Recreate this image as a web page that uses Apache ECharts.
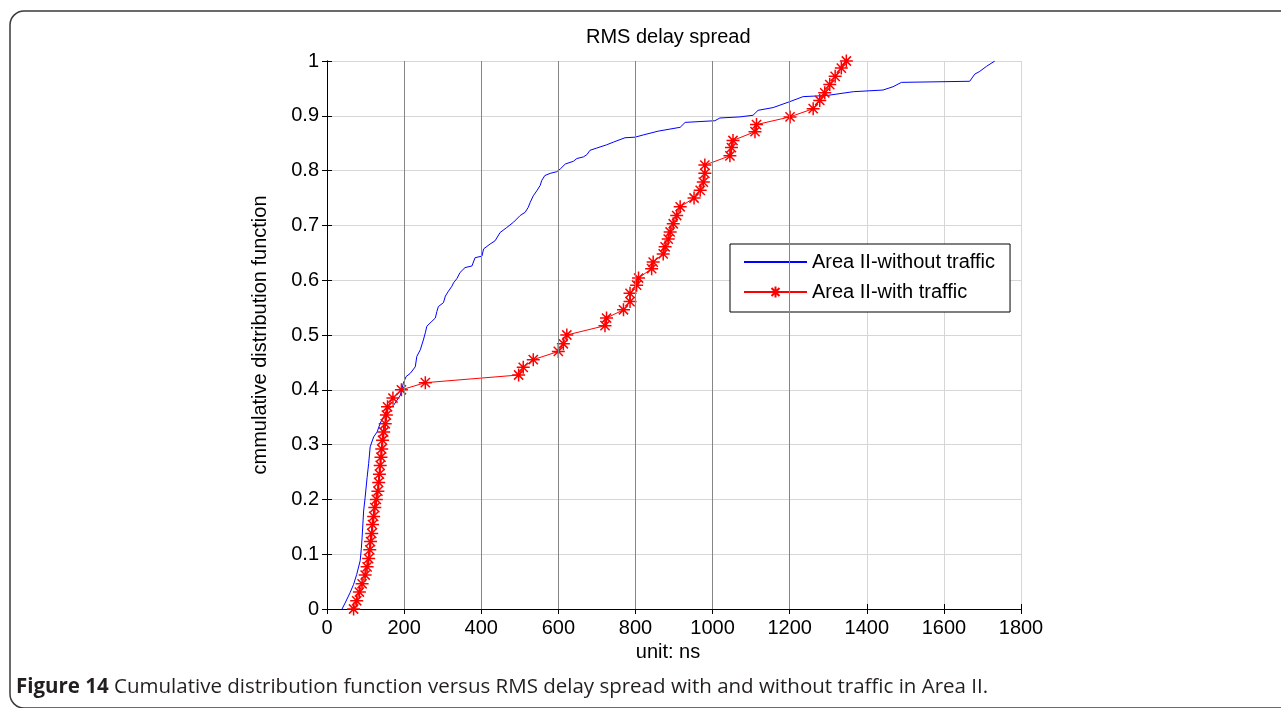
<!DOCTYPE html>
<html>
<head>
<meta charset="utf-8">
<script src="https://cdn.jsdelivr.net/npm/echarts@6/dist/echarts.min.js"></script>
<style>
html,body{margin:0;padding:0;background:#fff;}
#chart{width:1281px;height:708px;}
</style>
</head>
<body>
<div id="chart"></div>
<script>
var chartTitle = 'RMS delay spread';
var xAxisName = 'unit: ns';
var yAxisName = 'cmmulative distribution function';
var seriesNames = ['Area II-without traffic', 'Area II-with traffic'];
var caption = 'Cumulative distribution function versus RMS delay spread with and without traffic in Area II.';
var captionLabel = 'Figure 14';
var xMin = 0, xMax = 1800, xStep = 200;
var yMin = 0, yMax = 1, yStep = 0.1;
var darkGridX = [200, 400, 600, 800, 1000, 1200];

var withoutTraffic = [
  [39,0],[47,0.011],[60,0.03],[69,0.045],[77,0.063],[86,0.088],[89,0.11],[91,0.130],[95,0.179],
  [99,0.204],[104,0.240],[108,0.265],[112,0.296],[121,0.314],[130,0.323],[138,0.339],[147,0.351],
  [155,0.363],[173,0.372],[190,0.390],[198,0.412],[205,0.424],[216,0.430],[229,0.442],[233,0.461],
  [242,0.473],[250,0.491],[255,0.504],[259,0.516],[272,0.525],[281,0.531],[285,0.543],[289,0.552],
  [302,0.559],[307,0.571],[315,0.580],[324,0.589],[328,0.595],[337,0.603],[345,0.614],[358,0.623],
  [376,0.626],[384,0.641],[402,0.644],[406,0.657],[423,0.666],[436,0.672],[449,0.687],[466,0.696],
  [484,0.706],[501,0.718],[514,0.724],[522,0.733],[527,0.742],[535,0.754],[544,0.763],[553,0.773],
  [557,0.782],[565,0.791],[579,0.795],[596,0.798],[605,0.803],[618,0.812],[639,0.817],[648,0.822],
  [665,0.825],[674,0.829],[682,0.837],[699,0.841],[725,0.847],[743,0.852],[773,0.860],[799,0.861],
  [820,0.865],[859,0.872],[864,0.874],[916,0.879],[929,0.888],[1006,0.891],[1019,0.896],[1071,0.898],
  [1105,0.901],[1118,0.910],[1157,0.915],[1201,0.926],[1235,0.935],[1296,0.937],[1365,0.944],
  [1442,0.947],[1468,0.953],[1490,0.961],[1667,0.963],[1680,0.976],[1693,0.981],[1710,0.990],[1732,1.0]
];

var withTraffic = [
  [69,0.000],[77,0.015],[84,0.031],[91,0.046],[99,0.062],[104,0.077],[108,0.092],[111,0.108],
  [113,0.123],[116,0.138],[118,0.154],[121,0.169],[124,0.185],[128,0.200],[132,0.215],[134,0.231],
  [136,0.246],[138,0.262],[140,0.277],[142,0.292],[144,0.308],[147,0.323],[151,0.338],[154,0.354],
  [157,0.369],[171,0.385],[193,0.400],[255,0.413],[497,0.427],[509,0.441],[535,0.455],[600,0.470],
  [613,0.484],[622,0.500],[721,0.517],[725,0.531],[769,0.546],[786,0.561],[786,0.576],[803,0.591],
  [808,0.604],[842,0.621],[846,0.633],[872,0.648],[877,0.661],[885,0.675],[890,0.688],[898,0.703],
  [907,0.718],[916,0.734],[952,0.750],[968,0.764],[976,0.779],[980,0.795],[980,0.810],[1045,0.827],
  [1049,0.842],[1053,0.855],[1110,0.871],[1114,0.884],[1201,0.898],[1261,0.913],[1278,0.928],
  [1291,0.942],[1304,0.957],[1318,0.972],[1334,0.987],[1347,1.0]
];

var asterisk = 'path://M0 5 L10 5 M5 0 L5 10 M1.46 1.46 L8.54 8.54 M8.54 1.46 L1.46 8.54';
var FONT = '"Liberation Sans", Arial, sans-serif';
var CAPFONT = '"Open Sans", "Noto Sans", sans-serif';

var chart = echarts.init(document.getElementById('chart'), null, {renderer: 'canvas'});

function plainNum(v) { return String(v); }

var option = {
  animation: false,
  backgroundColor: '#fff',
  title: {
    text: chartTitle,
    left: 586, top: 27, padding: 0,
    textStyle: {fontFamily: FONT, fontSize: 20, fontWeight: 'normal', color: '#000'}
  },
  legend: {
    orient: 'vertical',
    left: 730, top: 244,
    padding: [8, 15, 10, 13],
    itemWidth: 63, itemHeight: 14, itemGap: 10,
    borderColor: '#000', borderWidth: 1, borderRadius: 0,
    backgroundColor: '#fff',
    textStyle: {fontFamily: FONT, fontSize: 20, color: '#000'},
    data: [
      {name: seriesNames[0], itemStyle: {opacity: 0}},
      {name: seriesNames[1]}
    ]
  },
  grid: {left: 327, right: 260, top: 61, bottom: 99, containLabel: false},
  xAxis: [{
    type: 'value', min: xMin, max: xMax, interval: xStep,
    name: xAxisName, nameLocation: 'middle', nameGap: 33,
    nameTextStyle: {fontFamily: FONT, fontSize: 20, color: '#000', padding: [0, 12, 0, 0]},
    axisLine: {show: true, lineStyle: {color: '#000', width: 1}},
    axisTick: {show: true, inside: true, length: 5, lineStyle: {color: '#000'}},
    axisLabel: {fontFamily: FONT, fontSize: 20, color: '#000', margin: 9, formatter: plainNum},
    splitLine: {show: true, lineStyle: {color: '#d6d6d6', width: 1}}
  }, {
    type: 'value', min: xMin, max: xMax, interval: xStep, position: 'top',
    axisLine: {show: true, lineStyle: {color: '#000', width: 1}},
    axisTick: {show: true, inside: true, length: 5, lineStyle: {color: '#000'}},
    axisLabel: {show: false}, splitLine: {show: false}
  }],
  yAxis: [{
    type: 'value', min: yMin, max: yMax, interval: yStep,
    name: yAxisName, nameLocation: 'middle', nameGap: 57, nameRotate: 90,
    nameTextStyle: {fontFamily: FONT, fontSize: 20, color: '#000'},
    axisLine: {show: true, lineStyle: {color: '#000', width: 1}},
    axisTick: {show: true, inside: true, length: 5, lineStyle: {color: '#000'}},
    axisLabel: {fontFamily: FONT, fontSize: 20, color: '#000', margin: 8, formatter: plainNum},
    splitLine: {show: true, lineStyle: {color: '#d6d6d6', width: 1}}
  }, {
    type: 'value', min: yMin, max: yMax, interval: yStep, position: 'right',
    axisLine: {show: true, lineStyle: {color: '#000', width: 1}},
    axisTick: {show: true, inside: true, length: 5, lineStyle: {color: '#000'}},
    axisLabel: {show: false}, splitLine: {show: false}
  }],
  series: [{
    name: '__grid', type: 'line', data: [], z: 1, silent: true,
    markLine: {
      silent: true, symbol: 'none', animation: false,
      label: {show: false},
      lineStyle: {color: '#858585', type: 'solid', width: 1},
      data: darkGridX.map(function (v) { return {xAxis: v}; })
    }
  }, {
    name: seriesNames[0], type: 'line', data: withoutTraffic,
    symbol: 'none', color: '#0000ff',
    lineStyle: {color: '#0000ff', width: 1},
    z: 3
  }, {
    name: seriesNames[1], type: 'line', data: withTraffic,
    symbol: asterisk, symbolSize: 13, showAllSymbol: true,
    color: '#ff0000',
    lineStyle: {color: '#ff0000', width: 1},
    itemStyle: {color: '#ff0000', borderColor: '#ff0000', borderWidth: 1.5},
    z: 4
  }],
  graphic: [{
    type: 'rect', silent: true, z: -1,
    shape: {x: 10, y: 11, width: 1320, height: 697, r: 14},
    style: {fill: 'none', stroke: '#3a3a3a', lineWidth: 1.5}
  }, {
    type: 'text', left: 16, top: 677, silent: true,
    style: {
      text: '{b|' + captionLabel + '} ' + caption,
      fontFamily: CAPFONT,
      fontSize: 20.5, fill: '#231f20',
      rich: {b: {fontWeight: 'bold', fontFamily: CAPFONT, fontSize: 20.5, fill: '#231f20'}}
    }
  }]
};
chart.setOption(option);
</script>
</body>
</html>
